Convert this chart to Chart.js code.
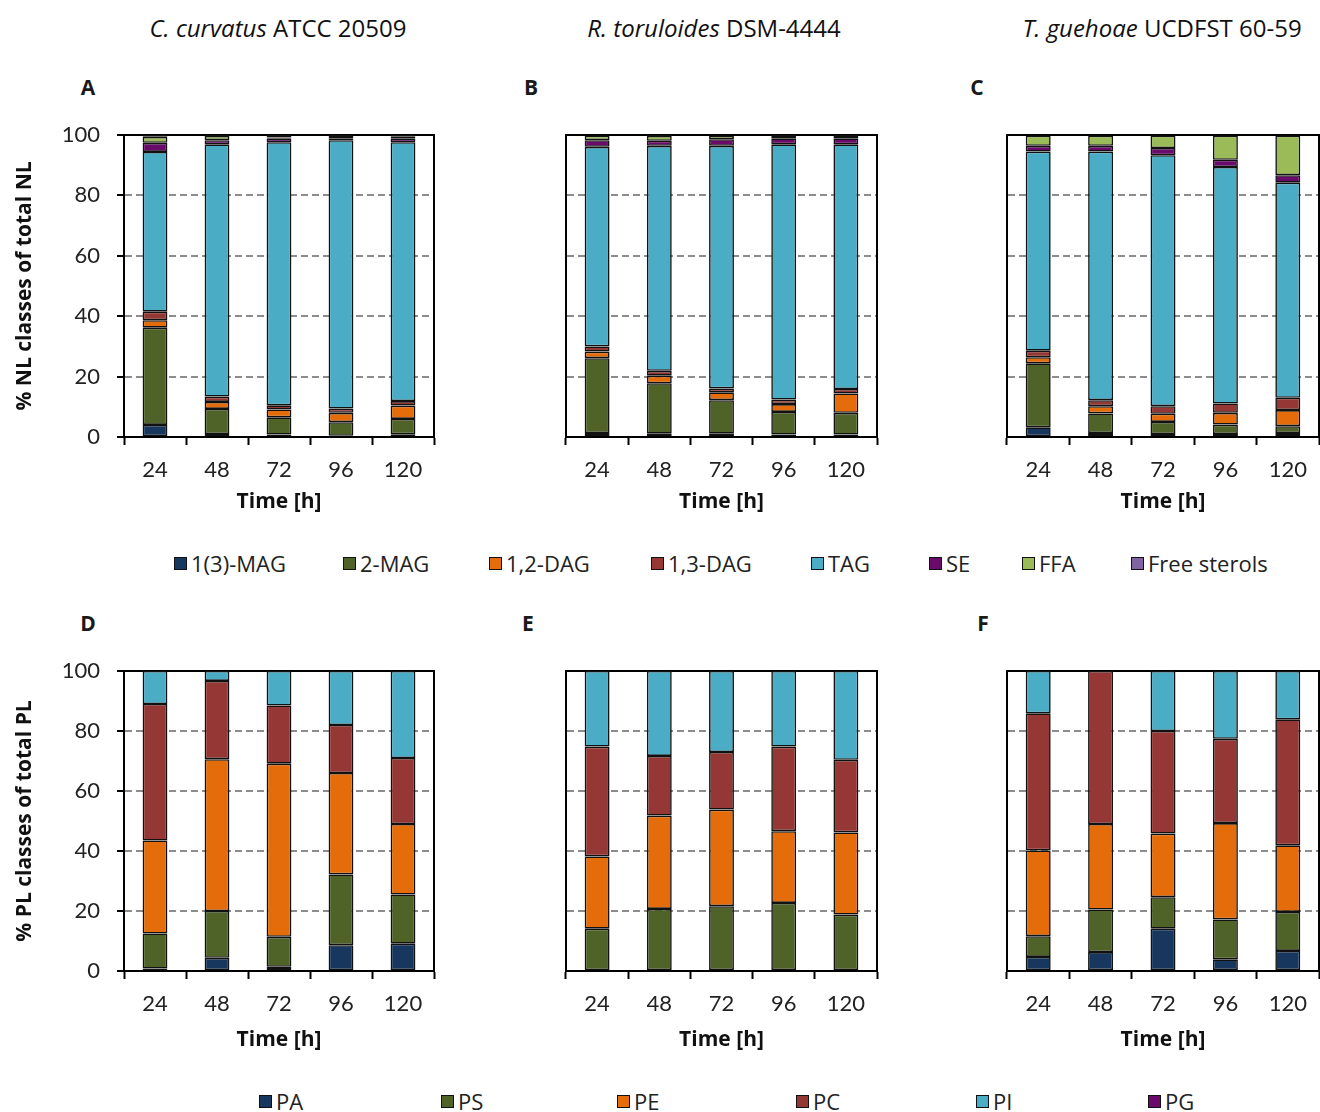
<!DOCTYPE html>
<html>
<head>
<meta charset="utf-8">
<title>Lipid class composition over time</title>
<script src="https://cdn.jsdelivr.net/npm/chart.js@4/dist/chart.umd.min.js"></script>
<style>
  html, body { margin: 0; padding: 0; background: #fff; }
  body { width: 1320px; height: 1112px; position: relative; overflow: hidden;
         font-family: "Open Sans", Lato, "DejaVu Sans", sans-serif; color: #1a1a1a; }
  .abs { position: absolute; transform: translate(-50%, -50%); white-space: nowrap; }
  .strain { font-size: 24px; color: #111; }
  .letter { font-size: 21px; font-weight: bold; }
  canvas { position: absolute; }
  .leg { position: absolute; display: flex; align-items: center; font-size: 22px; white-space: nowrap;
         transform: translateY(-50%); color: #222; }
  .leg .sw { width: 11px; height: 11px; border: 1.5px solid #111; margin-right: 4px; }
</style>
</head>
<body>

<div class="abs strain" style="left:278px; top:27px;"><i>C. curvatus</i> ATCC 20509</div>
<div class="abs strain" style="left:714px; top:27px;"><i>R. toruloides</i> DSM-4444</div>
<div class="abs strain" style="left:1162px; top:27px;"><i>T. guehoae</i> UCDFST 60-59</div>

<div class="abs letter" style="left:88px; top:87px;">A</div>
<div class="abs letter" style="left:531px; top:87px;">B</div>
<div class="abs letter" style="left:977px; top:87px;">C</div>
<div class="abs letter" style="left:88px; top:623px;">D</div>
<div class="abs letter" style="left:528px; top:623px;">E</div>
<div class="abs letter" style="left:983px; top:623px;">F</div>

<canvas id="panelA" width="450" height="400" style="left:0px; top:120px;"></canvas>
<canvas id="panelB" width="450" height="400" style="left:441px; top:120px;"></canvas>
<canvas id="panelC" width="438" height="400" style="left:882px; top:120px;"></canvas>
<canvas id="panelD" width="450" height="400" style="left:0px; top:655px;"></canvas>
<canvas id="panelE" width="450" height="400" style="left:441px; top:655px;"></canvas>
<canvas id="panelF" width="438" height="400" style="left:882px; top:655px;"></canvas>

<div id="legendNL"></div>
<div id="legendPL"></div>

<script>
// Sampling times (h)
const timeLabels = ['24', '48', '72', '96', '120'];

// Neutral lipid classes and their fill colours
const nlClasses = ['1(3)-MAG', '2-MAG', '1,2-DAG', '1,3-DAG', 'TAG', 'SE', 'FFA', 'Free sterols'];
const nlColors  = ['#17375E', '#4F6228', '#E46C0A', '#953735', '#4BACC6', '#6A0A6A', '#9BBB59', '#8064A2'];

// Polar lipid classes and their fill colours
const plClasses = ['PA', 'PS', 'PE', 'PC', 'PI', 'PG'];
const plColors  = ['#17375E', '#4F6228', '#E46C0A', '#953735', '#4BACC6', '#6A0A6A'];

// % of total NL, one row per class (order of nlClasses), columns = timeLabels
const nlCurvatus = [
  [4.0, 1.0, 0.8, 0.4, 0.9],
  [32.2, 8.3, 5.7, 4.5, 5.1],
  [2.5, 2.3, 2.6, 3.1, 4.4],
  [2.8, 1.8, 1.4, 1.4, 1.5],
  [52.9, 83.5, 87.1, 88.9, 85.7],
  [3.0, 1.4, 1.3, 0.6, 1.3],
  [2.0, 1.4, 0.3, 0.4, 0.5],
  [0.6, 0.3, 0.8, 0.7, 0.6]
];
const nlToruloides = [
  [1.3, 1.1, 1.1, 0.8, 0.8],
  [24.8, 16.7, 11.1, 7.5, 7.2],
  [2.2, 2.5, 2.6, 2.6, 6.4],
  [1.7, 1.6, 1.3, 1.5, 1.5],
  [66.1, 74.5, 80.3, 84.5, 81.0],
  [2.2, 1.7, 2.2, 2.0, 2.0],
  [1.5, 1.6, 1.2, 0.8, 0.8],
  [0.2, 0.3, 0.2, 0.3, 0.3]
];
const nlGuehoae = [
  [3.2, 1.3, 1.0, 1.0, 1.3],
  [21.2, 6.5, 4.0, 3.1, 2.3],
  [2.0, 2.4, 2.7, 3.9, 5.3],
  [2.2, 2.0, 2.5, 3.1, 4.1],
  [65.9, 82.3, 83.1, 78.3, 71.2],
  [1.9, 1.9, 2.4, 2.4, 2.5],
  [3.4, 3.4, 4.1, 8.0, 13.1],
  [0.2, 0.2, 0.2, 0.2, 0.2]
];

// % of total PL, one row per class (order of plClasses)
const plCurvatus = [
  [0.8, 4.4, 1.4, 8.6, 9.1],
  [11.7, 15.6, 10.0, 23.6, 16.4],
  [31.0, 50.6, 57.7, 33.8, 23.5],
  [45.5, 26.1, 19.4, 16.0, 22.0],
  [11.0, 3.3, 11.5, 18.0, 29.0],
  [0, 0, 0, 0, 0]
];
const plToruloides = [
  [0, 0, 0, 0, 0],
  [14.1, 20.7, 21.6, 22.7, 18.8],
  [24.1, 31.1, 32.2, 23.9, 27.4],
  [36.6, 19.9, 19.2, 28.2, 24.2],
  [25.2, 28.3, 27.0, 25.2, 29.6],
  [0, 0, 0, 0, 0]
];
const plGuehoae = [
  [4.7, 6.3, 14.1, 3.9, 6.7],
  [6.9, 14.2, 10.5, 13.3, 13.0],
  [28.6, 28.5, 21.2, 32.1, 22.2],
  [45.7, 51.0, 34.2, 28.1, 42.0],
  [14.1, 0, 20.0, 22.6, 16.1],
  [0, 0, 0, 0, 0]
];

const tickFont = 'Lato, "Open Sans", "DejaVu Sans", sans-serif';
const titleFont = '"Open Sans", Lato, "DejaVu Sans", sans-serif';
Chart.defaults.font.family = tickFont;
Chart.defaults.color = '#222';

function makePanel(id, rows, classes, colors, cfg) {
  const datasets = rows.map((vals, i) => ({
    label: classes[i],
    data: vals.map(v => (v === 0 ? null : v)),
    backgroundColor: colors[i],
    borderColor: '#111',
    borderWidth: 1.6,
    borderSkipped: false,
    barPercentage: 0.4,
    categoryPercentage: 1.0
  }));

  return new Chart(document.getElementById(id), {
    type: 'bar',
    data: { labels: timeLabels, datasets },
    options: {
      responsive: false,
      animation: false,
      events: [],
      layout: { padding: { top: cfg.top, right: cfg.right, left: 0, bottom: 0 } },
      plugins: { legend: { display: false }, tooltip: { enabled: false } },
      scales: {
        x: {
          stacked: true,
          grid: { display: true, offset: true, drawOnChartArea: false, drawTicks: true,
                  tickLength: 8, tickColor: '#000', tickWidth: 2 },
          border: { display: true, color: '#000', width: 2 },
          ticks: { color: '#222', font: { size: 22 }, padding: 12, maxRotation: 0, autoSkip: false },
          title: { display: true, text: 'Time [h]', color: '#111',
                   font: { family: titleFont, size: 21, weight: 'bold' },
                   padding: { top: 0, bottom: cfg.xTitlePad } },
          afterFit: s => { s.height = cfg.xHeight; s.paddingLeft = 0; s.paddingRight = 0; }
        },
        y: {
          stacked: true,
          min: 0, max: 100,
          ticks: { display: cfg.showY, stepSize: 20, padding: 17, color: '#222', font: { size: 22 } },
          grid: {
            color: c => (c.tick && (c.tick.value === 0 || c.tick.value === 100)) ? 'rgba(0,0,0,0)' : '#8c8c8c',
            lineWidth: 2,
            drawTicks: cfg.showY, tickLength: 7, tickColor: '#000', tickWidth: 2
          },
          border: { display: true, color: '#000', width: 2, dash: [7, 4] },
          title: { display: cfg.showY, text: cfg.yTitle || '', color: '#111',
                   font: { family: titleFont, size: 21, weight: 'bold' }, padding: { top: 12, bottom: 0 } },
          afterFit: s => { s.width = cfg.yWidth; s.paddingTop = 0; s.paddingBottom = 0; }
        },
        xTop: {
          type: 'category', labels: timeLabels, position: 'top',
          grid: { display: false }, ticks: { display: false },
          border: { display: true, color: '#000', width: 2 },
          afterFit: s => { s.height = 0; }
        },
        yRight: {
          type: 'linear', min: 0, max: 100, position: 'right',
          grid: { display: false }, ticks: { display: false },
          border: { display: true, color: '#000', width: 2 },
          afterFit: s => { s.width = 0; }
        }
      }
    }
  });
}

const topRow = { top: 15, xHeight: 83, xTitlePad: 5 };
const botRow = { top: 16, xHeight: 84, xTitlePad: 2 };

makePanel('panelA', nlCurvatus, nlClasses, nlColors,
  Object.assign({}, topRow, { showY: true, yWidth: 124, right: 16, yTitle: '% NL classes of total NL' }));
makePanel('panelB', nlToruloides, nlClasses, nlColors,
  Object.assign({}, topRow, { showY: false, yWidth: 125, right: 14 }));
makePanel('panelC', nlGuehoae, nlClasses, nlColors,
  Object.assign({}, topRow, { showY: false, yWidth: 125, right: 1 }));
makePanel('panelD', plCurvatus, plClasses, plColors,
  Object.assign({}, botRow, { showY: true, yWidth: 124, right: 16, yTitle: '% PL classes of total PL' }));
makePanel('panelE', plToruloides, plClasses, plColors,
  Object.assign({}, botRow, { showY: false, yWidth: 125, right: 14 }));
makePanel('panelF', plGuehoae, plClasses, plColors,
  Object.assign({}, botRow, { showY: false, yWidth: 125, right: 1 }));

// Shared legends below each row
function buildLegend(hostId, classes, colors, xs, y) {
  const host = document.getElementById(hostId);
  classes.forEach((name, i) => {
    const item = document.createElement('div');
    item.className = 'leg';
    item.style.left = xs[i] + 'px';
    item.style.top = y + 'px';
    const sw = document.createElement('span');
    sw.className = 'sw';
    sw.style.background = colors[i];
    const txt = document.createElement('span');
    txt.textContent = name;
    item.appendChild(sw);
    item.appendChild(txt);
    host.appendChild(item);
  });
}
buildLegend('legendNL', nlClasses, nlColors, [174, 343, 489, 651, 811, 929, 1022, 1131], 563);
buildLegend('legendPL', plClasses, plColors, [259, 441, 617, 796, 976, 1148], 1101);
</script>
</body>
</html>
